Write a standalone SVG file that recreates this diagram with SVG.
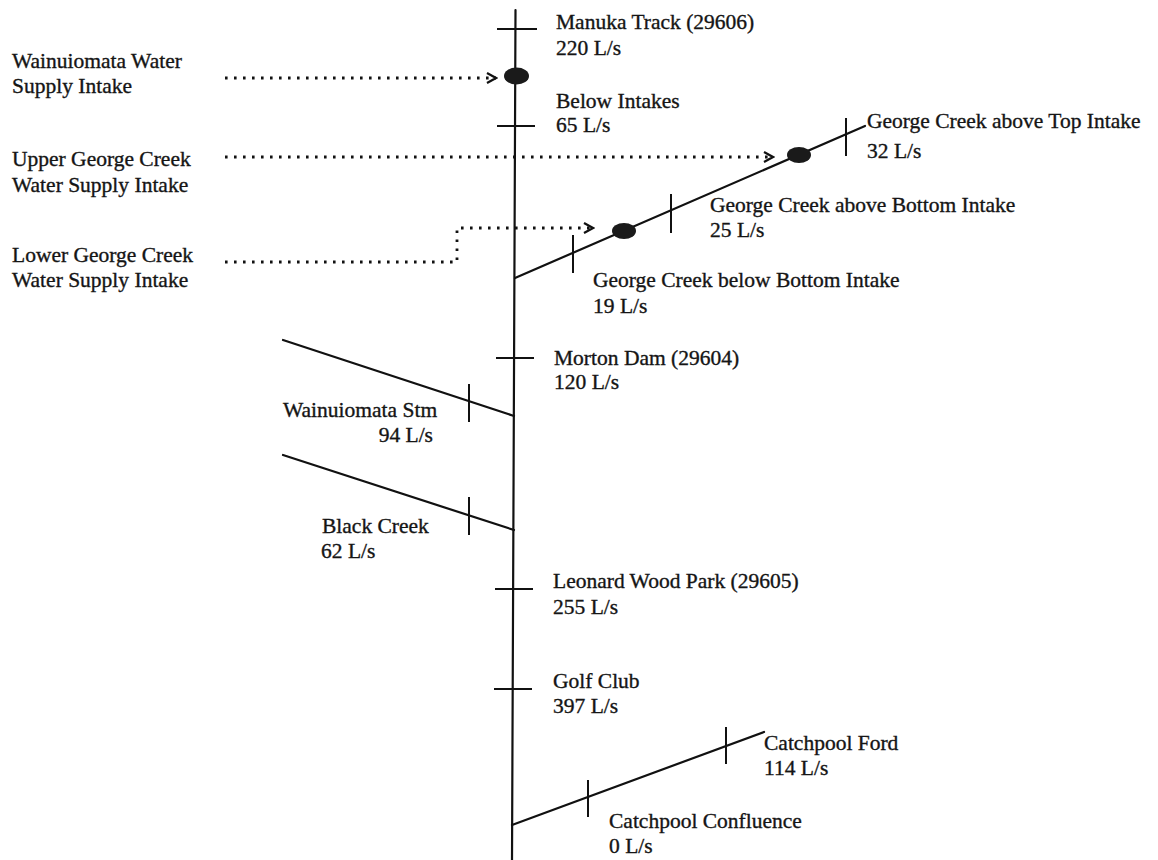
<svg xmlns="http://www.w3.org/2000/svg" width="1158" height="860" viewBox="0 0 1158 860">
<style>
  text { font-family: "Liberation Serif", "Times New Roman", serif; font-size: 21.5px; fill: #151515; stroke: #151515; stroke-width: 0.35; }
  .river { stroke: #111; stroke-width: 2.2; fill: none; stroke-linecap: round; }
  .tick { stroke: #111; stroke-width: 2; fill: none; }
  .dot { stroke: #111; stroke-width: 2.8; fill: none; stroke-dasharray: 2.6 6.4; }
  .intake { fill: #1a1a1a; }
  .head { stroke: #111; stroke-width: 2.2; fill: none; stroke-linejoin: miter; }
</style>
<defs>
  <marker id="chev" markerUnits="userSpaceOnUse" markerWidth="12" markerHeight="14" refX="10" refY="6" orient="auto" viewBox="0 0 12 12">
    <path d="M1,1 L10,6 L1,11" class="head"/>
  </marker>
</defs>
<rect width="1158" height="860" fill="#ffffff"/>

<g id="connectors">
  <path id="main-river" class="river" d="M515.5,10 L512,860"/>
  <path id="george-creek" class="river" d="M515,278 L865,126"/>
  <path id="wainuiomata-stm" class="river" d="M283,340 L514,416"/>
  <path id="black-creek" class="river" d="M283,455 L514,530"/>
  <path id="catchpool" class="river" d="M512,825 L764,732"/>
  <path id="arrow-wainuiomata" class="dot" d="M225,78 L496,78" marker-end="url(#chev)"/>
  <path id="arrow-upper-george" class="dot" d="M225,157 L773,157" marker-end="url(#chev)"/>
  <path id="arrow-lower-george" class="dot" d="M225,262 L457,262 L457,228 L593,228" marker-end="url(#chev)"/>
</g>

<g id="manuka-track">
  <line class="tick" x1="497" y1="29" x2="537" y2="29"/>
  <text x="556" y="29">Manuka Track (29606)</text>
  <text x="556" y="55">220 L/s</text>
</g>

<g id="wainuiomata-intake">
  <ellipse class="intake" cx="516.5" cy="76" rx="12.5" ry="8.5"/>
  <text x="12" y="68">Wainuiomata Water</text>
  <text x="12" y="93">Supply Intake</text>
</g>

<g id="below-intakes">
  <line class="tick" x1="497" y1="126" x2="535" y2="126"/>
  <text x="556" y="108">Below Intakes</text>
  <text x="556" y="132">65 L/s</text>
</g>

<g id="upper-george-intake">
  <ellipse class="intake" cx="799" cy="155" rx="12" ry="8"/>
  <text x="12" y="166">Upper George Creek</text>
  <text x="12" y="192">Water Supply Intake</text>
</g>

<g id="george-above-top">
  <line class="tick" x1="846" y1="118" x2="846" y2="156"/>
  <text x="867" y="128">George Creek above Top Intake</text>
  <text x="867" y="158">32 L/s</text>
</g>

<g id="george-above-bottom">
  <line class="tick" x1="671" y1="194" x2="671" y2="233"/>
  <text x="710" y="212">George Creek above Bottom Intake</text>
  <text x="710" y="237">25 L/s</text>
</g>

<g id="lower-george-intake">
  <ellipse class="intake" cx="624" cy="231" rx="12" ry="8"/>
  <text x="12" y="262">Lower George Creek</text>
  <text x="12" y="287">Water Supply Intake</text>
</g>

<g id="george-below-bottom">
  <line class="tick" x1="573" y1="235" x2="573" y2="273"/>
  <text x="593" y="287">George Creek below Bottom Intake</text>
  <text x="593" y="313">19 L/s</text>
</g>

<g id="morton-dam">
  <line class="tick" x1="496" y1="358" x2="534" y2="358"/>
  <text x="554" y="365">Morton Dam (29604)</text>
  <text x="554" y="389">120 L/s</text>
</g>

<g id="wainuiomata-stm-station">
  <line class="tick" x1="469" y1="384" x2="469" y2="422"/>
  <text x="283" y="417">Wainuiomata Stm</text>
  <text x="433" y="442" text-anchor="end">94 L/s</text>
</g>

<g id="black-creek-station">
  <line class="tick" x1="469" y1="497" x2="469" y2="535"/>
  <text x="322" y="533">Black Creek</text>
  <text x="321" y="558">62 L/s</text>
</g>

<g id="leonard-wood-park">
  <line class="tick" x1="495" y1="589" x2="533" y2="589"/>
  <text x="553" y="588">Leonard Wood Park (29605)</text>
  <text x="553" y="614">255 L/s</text>
</g>

<g id="golf-club">
  <line class="tick" x1="494" y1="689" x2="532" y2="689"/>
  <text x="553" y="688">Golf Club</text>
  <text x="553" y="713">397 L/s</text>
</g>

<g id="catchpool-ford">
  <line class="tick" x1="726" y1="727" x2="726" y2="764"/>
  <text x="764" y="750">Catchpool Ford</text>
  <text x="764" y="775">114 L/s</text>
</g>

<g id="catchpool-confluence">
  <line class="tick" x1="588" y1="780" x2="588" y2="817"/>
  <text x="609" y="828">Catchpool Confluence</text>
  <text x="609" y="853">0 L/s</text>
</g>
</svg>
